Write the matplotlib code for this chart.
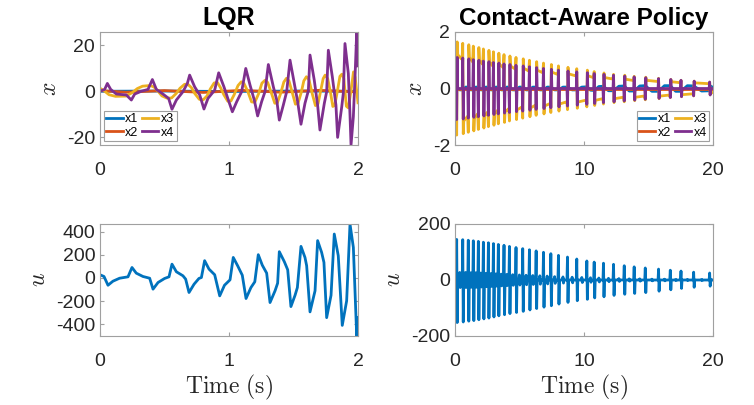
import numpy as np
import matplotlib
matplotlib.use("Agg")
import matplotlib.pyplot as plt

plt.rcParams['font.family'] = ['Liberation Sans', 'DejaVu Sans']
plt.rcParams['mathtext.fontset'] = 'cm'
plt.rcParams['axes.unicode_minus'] = False

C1, C2, C3, C4 = '#0072BD', '#D95319', '#EDB120', '#7E2F8E'

# ---------------- LQR ----------------
lqr_u_t = [0.0, 0.031, 0.062, 0.10, 0.152, 0.217, 0.248, 0.281, 0.333, 0.385,
           0.411, 0.45, 0.501, 0.535, 0.558, 0.592, 0.643, 0.664, 0.69, 0.729,
           0.767, 0.786, 0.811, 0.845, 0.889, 0.928, 0.965, 1.008, 1.033, 1.067,
           1.103, 1.132, 1.17, 1.2, 1.227, 1.258, 1.292, 1.318, 1.357, 1.377,
           1.39, 1.429, 1.455, 1.48, 1.512, 1.53, 1.558, 1.589, 1.602, 1.628,
           1.667, 1.687, 1.718, 1.736, 1.757, 1.791, 1.816, 1.847, 1.878, 1.912,
           1.938, 1.964, 1.99, 2.0]
lqr_u = [28, 13, -63, -28, -2, 10, 91, 42, 13, -2,
         -97, -39, -4, 10, 120, 54, 19, -10, -126, -54,
         -4, 4, 150, 77, 28, -155, -63, -16, 178, 106,
         24, -178, -83, -33, 202, 111, 42, -213, -111, -45,
         228, 141, 71, -248, -150, -83, 274, 178, 106, -294,
         -111, 324, 222, 135, -344, -150, 381, 193, -411, -198,
         468, 265, -503, -344]

lqr_x4_t = [0.0, 0.036, 0.057, 0.083, 0.127, 0.204, 0.243, 0.269, 0.32, 0.372,
            0.406, 0.437, 0.488, 0.532, 0.558, 0.592, 0.643, 0.677, 0.695, 0.734,
            0.773, 0.806, 0.837, 0.889, 0.92, 0.961, 0.995, 1.026, 1.06, 1.098,
            1.13, 1.163, 1.196, 1.222, 1.253, 1.279, 1.305, 1.344, 1.37, 1.39,
            1.421, 1.447, 1.473, 1.499, 1.532, 1.558, 1.589, 1.615, 1.628, 1.661,
            1.687, 1.705, 1.739, 1.757, 1.77, 1.801, 1.829, 1.842, 1.874, 1.886,
            1.899, 1.925, 1.938, 1.946, 1.964, 1.977, 1.99, 2.0]
lqr_x4 = [0.0, 0.8, 3.4, 0.8, -1.2, -1.6, -3.8, -1.2, 0.0, 0.8,
          5.1, 0.8, -1.2, -3.1, -7.8, -3.8, -0.2, 3.4, 7.0, 1.9,
          -1.6, -7.7, -3.1, 0.5, 8.0, 1.9, -3.8, -8.9, -4.5, -0.2,
          9.9, 2.7, -3.8, -10.7, -4.5, -0.2, 11.6, 1.9, -3.8, -12.5,
          -6.0, -0.2, 13.5, 5.6, -4.5, -14.3, -5.2, 0.2, 15.7, 4.8,
          -6.0, -16.8, -5.2, -0.2, 17.8, 6.3, -6.0, -20.0, -6.7, -0.9,
          20.7, 7.7, -10.3, -23.3, -11.0, 6.3, 25.7, 11.0]

lqr_x3_t = [0.0, 0.03, 0.07, 0.12, 0.2, 0.25, 0.29, 0.33, 0.39, 0.42,
            0.45, 0.48, 0.52, 0.555, 0.59, 0.62, 0.655, 0.68, 0.71, 0.735,
            0.77, 0.80, 0.83, 0.855, 0.885, 0.91, 0.935, 0.96, 0.99, 1.015,
            1.04, 1.07, 1.095, 1.115, 1.145, 1.175, 1.2, 1.23, 1.255, 1.28,
            1.30, 1.33, 1.355, 1.375, 1.40, 1.425, 1.445, 1.465, 1.49, 1.515,
            1.535, 1.56, 1.58, 1.60, 1.62, 1.645, 1.67, 1.69, 1.71, 1.73,
            1.745, 1.765, 1.785, 1.805, 1.82, 1.84, 1.86, 1.875, 1.89, 1.91,
            1.925, 1.945, 1.965, 1.978, 2.0]
lqr_x3 = [1.3, 0.3, -1.5, -2.2, -2.1, -0.6, 1.2, 2.2, 2.5, 1.8,
          0.0, -2.0, -3.0, -2.9, -1.0, 1.3, 3.0, 3.1, 1.5, -1.0,
          -3.5, -3.7, -2.0, 1.0, 3.6, 3.8, 1.5, -1.5, -4.3, -4.2,
          -1.5, 2.5, 4.1, 3.5, 0.0, -4.6, -4.8, -1.0, 3.5, 4.8,
          3.8, -1.0, -5.2, -5.0, -1.0, 4.0, 5.6, 4.5, -0.5, -5.6,
          -5.2, -0.5, 4.5, 6.3, 5.0, -1.0, -6.2, -5.5, 0.0, 5.5,
          7.0, 5.5, 0.0, -6.6, -6.0, 0.0, 6.5, 7.4, 5.5, -6.5,
          -7.2, 0.0, 8.4, 6.0, -5.0]

lqr_x2_t = [0.0, 0.2, 0.5, 0.8, 1.1, 1.4, 1.7, 2.0]
lqr_x2 = [0.3, -0.4, 0.3, -0.5, 0.4, -0.4, 0.4, -0.3]
lqr_x1_t = [0.0, 0.5, 1.0, 1.5, 2.0]
lqr_x1 = [0.0, 0.1, -0.1, 0.1, 0.0]

# ---------------- Contact-aware policy ----------------
ca_ev_t = [0.13, 0.6, 1.03, 1.42, 1.81, 2.2, 2.59, 2.98, 3.36, 3.8,
           4.22, 4.73, 5.25, 5.77, 6.29, 6.86, 7.43, 8.02, 8.72, 9.44,
           10.22, 10.79, 11.51, 12.29, 13.12, 13.89, 14.75, 15.78, 16.69, 17.52,
           18.5, 19.74]
ca_u_hi = [145, 144, 142, 140, 138, 135, 133, 130, 127, 124,
           120, 116, 112, 108, 104, 99, 94, 88, 82, 75,
           68, 64, 60, 56, 51, 47, 43, 39, 35, 32,
           28, 25]
ca_u_lo = [-152, -150, -147, -145, -142, -139, -136, -132, -128, -124,
           -120, -116, -112, -107, -102, -97, -92, -86, -80, -74,
           -69, -64, -60, -55, -51, -48, -45, -40, -35, -30,
           -26, -22]
ca_u_small = [27, 27, 26, 26, 25, 24, 23, 22, 21, 20,
              19, 18, 17, 16, 15, 14, 12, 11, 10, 9,
              8, 7, 6, 5, 4, 4, 3, 3, 2, 2,
              2, 1]
ca_x3_pk = [1.65, 1.6, 1.55, 1.5, 1.45, 1.4, 1.35, 1.3, 1.25, 1.2,
            1.15, 1.1, 1.05, 1.0, 0.95, 0.9, 0.85, 0.8, 0.75, 0.7,
            0.65, 0.6, 0.55, 0.5, 0.47, 0.43, 0.4, 0.36, 0.32, 0.29,
            0.26, 0.22]
ca_x3_pl = [1.2, 1.15, 1.1, 1.05, 1.0, 0.97, 0.93, 0.9, 0.86, 0.83,
            0.8, 0.76, 0.72, 0.69, 0.65, 0.62, 0.58, 0.55, 0.52, 0.48,
            0.45, 0.42, 0.39, 0.36, 0.33, 0.31, 0.29, 0.27, 0.24, 0.22,
            0.2, 0.17]
ca_x4_pk = [1.1, 1.08, 1.05, 1.02, 1.0, 0.97, 0.95, 0.92, 0.9, 0.87,
            0.85, 0.82, 0.8, 0.77, 0.74, 0.71, 0.68, 0.65, 0.62, 0.59,
            0.56, 0.53, 0.5, 0.47, 0.44, 0.41, 0.38, 0.35, 0.32, 0.29,
            0.26, 0.23]
ca_x1_pk = [0.05] * 20 + [0.06, 0.07, 0.08, 0.08, 0.09, 0.09, 0.1, 0.1, 0.1, 0.1, 0.09, 0.08]


def build_u(ev, hi, lo, sm, d=0.04):
    tt, yy = [0.0], [0.0]
    for i, t in enumerate(ev):
        tt += [t - d, t, t + d, t + 2 * d]
        yy += [0.0, hi[i], lo[i], 0.0]
        tn = ev[i + 1] if i + 1 < len(ev) else 20.0
        tm = 0.5 * (t + tn)
        tt += [tm - d, tm, tm + d, tm + 2 * d]
        yy += [0.0, sm[i], -sm[i], 0.0]
    tt.append(20.0)
    yy.append(0.0)
    return tt, yy


def build_x3(ev, pk, pl, d=0.04):
    # plateau of one sign, overshoot at contact, swing to the other sign
    tt, yy = [0.0], [-pl[0]]
    for i, t in enumerate(ev):
        s = 1 if i % 2 == 0 else -1
        tn = ev[i + 1] if i + 1 < len(ev) else 20.0
        tt += [t - d, t, t + d, t + 2 * d, tn - d]
        yy += [-s * pl[i], -s * pk[i], s * pk[i], s * pl[i], s * pl[i] * 0.85]
    return tt, yy


def build_x4(ev, pk, d=0.04):
    tt, yy = [0.0], [0.0]
    for i, t in enumerate(ev):
        s = 1 if i % 2 == 0 else -1
        tt += [t - d, t, t + d, t + 2 * d]
        yy += [0.0, -s * pk[i], s * pk[i], 0.0]
    tt.append(20.0)
    yy.append(0.0)
    return tt, yy


def build_x1(ev, pk):
    tt, yy = [0.0], [0.0]
    for i, t in enumerate(ev):
        s = 1 if i % 2 == 0 else -1
        tn = ev[i + 1] if i + 1 < len(ev) else 20.0
        tt += [t, 0.5 * (t + tn)]
        yy += [s * pk[i], -s * pk[i]]
    tt.append(20.0)
    yy.append(0.0)
    return tt, yy


fig = plt.figure(figsize=(7.54, 4.05), dpi=100)
W, H = 754.0, 405.0
ax1 = fig.add_axes([100 / W, 1 - 145 / H, 258 / W, 113 / H])
ax2 = fig.add_axes([455 / W, 1 - 145 / H, 258 / W, 113 / H])
ax3 = fig.add_axes([100 / W, 1 - 336 / H, 258 / W, 112 / H])
ax4 = fig.add_axes([455 / W, 1 - 336 / H, 258 / W, 112 / H])

lw = 2.0
ax1.plot(lqr_x1_t, lqr_x1, color=C1, lw=lw, label='x1')
ax1.plot(lqr_x2_t, lqr_x2, color=C2, lw=lw, label='x2')
ax1.plot(lqr_x3_t, lqr_x3, color=C3, lw=lw, label='x3')
ax1.plot(lqr_x4_t, lqr_x4, color=C4, lw=lw, label='x4')
ax1.set_xlim(0, 2)
ax1.set_ylim(min(lqr_x4), max(lqr_x4))
ax1.set_xticks([0, 1, 2])
ax1.set_yticks([-20, 0, 20])

t1, y1 = build_x1(ca_ev_t, ca_x1_pk)
ax2.plot(t1, y1, color=C1, lw=lw, label='x1')
ax2.plot([0, 20], [0, 0], color=C2, lw=lw, label='x2')
t3, y3 = build_x3(ca_ev_t, ca_x3_pk, ca_x3_pl)
ax2.plot(t3, y3, color=C3, lw=lw, label='x3')
t4, y4 = build_x4(ca_ev_t, ca_x4_pk)
ax2.plot(t4, y4, color=C4, lw=lw, label='x4')
ax2.set_xlim(0, 20)
ax2.set_ylim(-2, 2)
ax2.set_xticks([0, 10, 20])
ax2.set_yticks([-2, 0, 2])

ax3.plot(lqr_u_t, lqr_u, color=C1, lw=lw)
ax3.set_xlim(0, 2)
ax3.set_ylim(min(lqr_u), max(lqr_u))
ax3.set_xticks([0, 1, 2])
ax3.set_yticks([-400, -200, 0, 200, 400])

tu, yu = build_u(ca_ev_t, ca_u_hi, ca_u_lo, ca_u_small)
ax4.plot(tu, yu, color=C1, lw=lw)
ax4.set_xlim(0, 20)
ax4.set_ylim(-200, 200)
ax4.set_xticks([0, 10, 20])
ax4.set_yticks([-200, 0, 200])

for ax in (ax1, ax2, ax3, ax4):
    for sp in ax.spines.values():
        sp.set_color('#a0a0a0')
        sp.set_linewidth(0.8)
    ax.tick_params(direction='in', length=3, color='#a0a0a0', labelsize=14,
                   labelcolor='#262626', top=True, right=True)
    ax.tick_params(axis='x', pad=12)

ax1.set_ylabel(r'$x$', fontsize=17, color='#262626')
ax2.set_ylabel(r'$x$', fontsize=17, color='#262626')
ax3.set_ylabel(r'$u$', fontsize=17, color='#262626')
ax4.set_ylabel(r'$u$', fontsize=17, color='#262626')
ax3.set_xlabel(r'$\mathrm{Time\ (s)}$', fontsize=17, color='#262626', labelpad=2)
ax4.set_xlabel(r'$\mathrm{Time\ (s)}$', fontsize=17, color='#262626', labelpad=2)
ax1.set_title('LQR', fontsize=18, fontweight='bold', pad=5)
ax2.set_title('Contact-Aware Policy', fontsize=17.5, fontweight='bold', pad=5)

leg_kw = dict(ncol=2, fontsize=9, handlelength=1.3, handletextpad=0.2,
              columnspacing=0.3, borderpad=0.2, labelspacing=0.12,
              fancybox=False, framealpha=1, edgecolor='#a0a0a0',
              borderaxespad=0.3)
l1 = ax1.legend(loc='lower left', **leg_kw)
l2 = ax2.legend(loc='lower right', **leg_kw)
for l in (l1, l2):
    l.get_frame().set_linewidth(0.8)

fig.savefig('out.png', dpi=100)
